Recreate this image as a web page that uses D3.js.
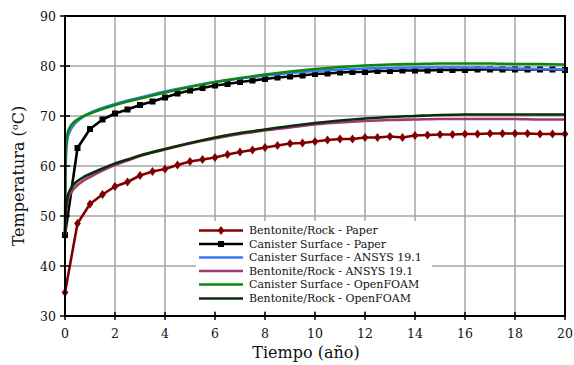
<!DOCTYPE html>
<html><head><meta charset="utf-8">
<script src="https://cdn.jsdelivr.net/npm/d3@7"></script>
<style>body{margin:0;background:#fff}svg{display:block}text{font-family:"DejaVu Serif",serif}</style>
</head><body>
<svg id="c" width="574" height="365"></svg>
<script>
// Paper data (every 0.5 years)
const paperTimes = d3.range(0, 20.01, 0.5);
const bentonitePaper = [34.7,48.5,52.4,54.3,55.9,56.8,58.1,58.9,59.4,60.2,60.9,61.3,61.7,62.3,62.8,63.2,63.7,64.1,64.5,64.6,64.9,65.2,65.4,65.4,65.7,65.7,65.9,65.7,66.1,66.2,66.3,66.3,66.4,66.4,66.5,66.5,66.5,66.5,66.4,66.4,66.4];
const canisterPaper = [46.2,63.6,67.4,69.3,70.5,71.3,72.2,72.9,73.7,74.5,75.1,75.6,76.1,76.4,76.8,77.1,77.4,77.7,77.9,78.1,78.4,78.5,78.7,78.8,78.8,79.0,79.0,79.1,79.1,79.1,79.2,79.2,79.2,79.3,79.3,79.3,79.3,79.3,79.3,79.3,79.2];
// Simulation data
const simTimes = [0,0.02,0.05,0.1,0.2,0.35,0.5,0.75,1,1.5,2,2.5,3,4,5,6,7,8,9,10,11,12,13,14,15,16,17,18,19,20];
const canisterAnsys = [46.2,58,63,65.5,67,68.2,69,69.9,70.6,71.6,72.4,73.1,73.7,74.9,75.9,76.8,77.5,78.1,78.6,79.0,79.3,79.5,79.6,79.7,79.7,79.7,79.6,79.5,79.4,79.3];
const bentoniteAnsys = [46.2,49,51,52.8,54.3,55.4,56.2,57.1,57.8,59.1,60.2,61.1,62.0,63.3,64.5,65.5,66.4,67.1,67.7,68.3,68.7,69.0,69.2,69.3,69.4,69.4,69.4,69.4,69.3,69.3];
const canisterFoam = [46.2,60,64.5,66.5,67.8,68.7,69.3,70.0,70.5,71.4,72.2,72.9,73.5,74.7,75.8,76.8,77.6,78.3,78.9,79.4,79.8,80.1,80.3,80.4,80.5,80.5,80.5,80.4,80.4,80.3];
const bentoniteFoam = [46.2,50,52,53.8,55.2,56.3,57.0,57.8,58.4,59.5,60.5,61.3,62.1,63.4,64.6,65.7,66.6,67.3,68.0,68.6,69.1,69.5,69.8,70.0,70.2,70.3,70.3,70.3,70.3,70.3];
const xTicks = [0,2,4,6,8,10,12,14,16,18,20];
const yTicks = [30,40,50,60,70,80,90];
const seriesNames = ["Bentonite/Rock - Paper","Canister Surface - Paper","Canister Surface - ANSYS 19.1","Bentonite/Rock - ANSYS 19.1","Canister Surface - OpenFOAM","Bentonite/Rock - OpenFOAM"];
const seriesColors = ["#800000","#000000","#3a78f0","#a03a6e","#0a8a0a","#0a2e0a"];

const svg = d3.select("#c");
const x = d3.scaleLinear().domain([0,20]).range([65,565]);
const y = d3.scaleLinear().domain([30,90]).range([316,16]);

// grid
const g = svg.append("g");
g.selectAll(".gx").data(xTicks).join("line").attr("x1",d=>x(d)).attr("x2",d=>x(d)).attr("y1",16).attr("y2",316).attr("stroke","#a6a6a6").attr("stroke-width",1.5);
g.selectAll(".gy").data(yTicks).join("line").attr("y1",d=>y(d)).attr("y2",d=>y(d)).attr("x1",65).attr("x2",565).attr("stroke","#a6a6a6").attr("stroke-width",1.5);

const series = [
  {t:paperTimes, v:bentonitePaper, i:0, marker:"diamond", curve:d3.curveLinear},
  {t:paperTimes, v:canisterPaper, i:1, marker:"square", curve:d3.curveLinear},
  {t:simTimes, v:canisterAnsys, i:2, curve:d3.curveMonotoneX},
  {t:simTimes, v:bentoniteAnsys, i:3, curve:d3.curveMonotoneX},
  {t:simTimes, v:canisterFoam, i:4, curve:d3.curveMonotoneX},
  {t:simTimes, v:bentoniteFoam, i:5, curve:d3.curveMonotoneX},
];
const clip = svg.append("clipPath").attr("id","cp").append("rect").attr("x",65).attr("y",16).attr("width",500).attr("height",300);
const plot = svg.append("g");
function drawMarkers(sel, s, pts){
  if(s.marker==="diamond"){
    sel.selectAll(null).data(pts).join("path").attr("d",d3.symbol(d3.symbolDiamond,30)).attr("transform",d=>`translate(${x(d[0])},${y(d[1])}) scale(1.15,0.9)`).attr("fill",seriesColors[s.i]);
  } else if(s.marker==="square"){
    sel.selectAll(null).data(pts).join("rect").attr("x",d=>x(d[0])-3).attr("y",d=>y(d[1])-3).attr("width",6).attr("height",6).attr("fill",seriesColors[s.i]);
  }
}
series.forEach(s=>{
  const pts = s.t.map((t,k)=>[t,s.v[k]]);
  const line = d3.line().x(d=>x(d[0])).y(d=>y(d[1])).curve(s.curve);
  plot.append("path").attr("d",line(pts)).attr("fill","none").attr("stroke",seriesColors[s.i]).attr("stroke-width",2.6).attr("stroke-linejoin","round");
  if(s.marker) drawMarkers(plot.append("g"), s, pts);
});

// frame
svg.append("rect").attr("x",65).attr("y",16).attr("width",500).attr("height",300).attr("fill","none").attr("stroke","#000").attr("stroke-width",2);

// axes
const xa = svg.append("g").attr("transform","translate(0,316)");
xa.selectAll(null).data(xTicks).join("line").attr("x1",d=>x(d)).attr("x2",d=>x(d)).attr("y1",-4).attr("y2",4).attr("stroke","#000").attr("stroke-width",1.5);
xa.selectAll(null).data(xTicks).join("text").attr("x",d=>x(d)).attr("y",22).attr("text-anchor","middle").attr("font-size",12.5).attr("fill","#111").text(d=>d);
const ya = svg.append("g").attr("transform","translate(65,0)");
ya.selectAll(null).data(yTicks).join("line").attr("y1",d=>y(d)).attr("y2",d=>y(d)).attr("x1",-5).attr("x2",5).attr("stroke","#000").attr("stroke-width",1.5);
ya.selectAll(null).data(yTicks).join("text").attr("x",-9).attr("y",d=>y(d)).attr("dy","0.36em").attr("text-anchor","end").attr("font-size",12.5).attr("fill","#111").text(d=>d);

svg.append("text").attr("x",306).attr("y",358).attr("text-anchor","middle").attr("font-size",16).attr("fill","#111").text("Tiempo (año)");
const yt = svg.append("text").attr("transform","translate(24,176) rotate(-90)").attr("text-anchor","middle").attr("font-size",16).attr("fill","#111");
yt.append("tspan").text("Temperatura (");
yt.append("tspan").attr("font-size",10).attr("dy",-6).text("o");
yt.append("tspan").attr("dy",6).text("C)");

// legend
const lg = svg.append("g");
lg.append("rect").attr("x",196).attr("y",221).attr("width",236).attr("height",90).attr("fill","#fff");
const rowY = [230.5,244,257.5,271,284.5,298.5];
seriesNames.forEach((n,i)=>{
  const ry = rowY[i];
  lg.append("line").attr("x1",199).attr("x2",243).attr("y1",ry).attr("y2",ry).attr("stroke",seriesColors[i]).attr("stroke-width",2.6);
  if(i===0) lg.append("path").attr("d",d3.symbol(d3.symbolDiamond,30)()).attr("transform",`translate(221,${ry}) scale(1.15,0.9)`).attr("fill",seriesColors[0]);
  if(i===1) lg.append("rect").attr("x",218).attr("y",ry-3).attr("width",6).attr("height",6).attr("fill","#000");
  lg.append("text").attr("x",249).attr("y",ry).attr("dy","0.35em").attr("font-size",11).attr("fill","#111").text(n);
});
</script>
</body></html>
